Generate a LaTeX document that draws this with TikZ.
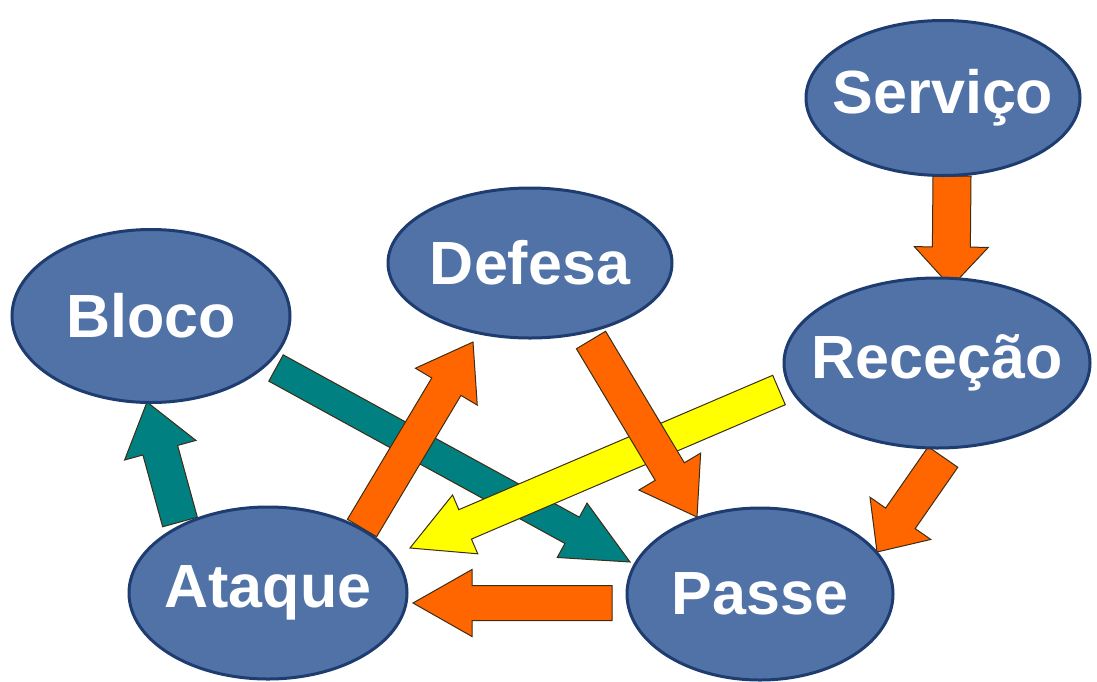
\documentclass[tikz,border=0pt]{standalone}
\usepackage{fontspec}
\setmainfont{Liberation Sans}
\usetikzlibrary{shapes.geometric,calc}
\definecolor{ellfill}{RGB}{80,114,166}
\definecolor{elldraw}{RGB}{30,60,112}
\definecolor{orangeA}{RGB}{255,102,0}
\definecolor{yellowA}{RGB}{255,255,0}
\definecolor{tealA}{RGB}{0,128,128}
\definecolor{arrline}{RGB}{60,45,20}
\tikzset{
  bubble/.style={ellipse, fill=ellfill, draw=elldraw, line width=3pt, inner sep=0pt},
  bubtext/.style={inner sep=0pt, text=white, font=\fontsize{61}{70}\selectfont\bfseries},
  barrowbase/.style={draw=arrline, line width=1pt, line join=miter},
  orangearrow/.style={barrowbase, fill=orangeA},
  yellowarrow/.style={barrowbase, fill=yellowA},
  tealarrow/.style={barrowbase, fill=tealA},
}
% #1 style, #2 tail, #3 tip, #4 shaft half width, #5 head half width, #6 head length
\newcommand\blockarr[6]{%
  \coordinate (hb) at ($(#3)!#6!(#2)$);
  \draw[#1] ($(#2)!#4!90:(#3)$) -- ($(hb)!#4!90:(#3)$) -- ($(hb)!#5!90:(#3)$) -- (#3)
    -- ($(hb)!#5!-90:(#3)$) -- ($(hb)!#4!-90:(#3)$) -- ($(#2)!#4!-90:(#3)$) -- cycle;}
\begin{document}
\begin{tikzpicture}[x=1pt,y=-1pt]
\useasboundingbox (0,0) rectangle (1097,681);
% arrow end points
\coordinate (t1) at (952,176);  \coordinate (h1) at (951,287);
\coordinate (t2) at (943,457);  \coordinate (h2) at (877,552);
\coordinate (t3) at (591,340);  \coordinate (h3) at (697,517);
\coordinate (t4) at (362,528);  \coordinate (h4) at (473,342);
\coordinate (t5) at (612,603);  \coordinate (h5) at (413,603);
\coordinate (t6) at (779,390);  \coordinate (h6) at (410,548);
\coordinate (t7) at (276,368);  \coordinate (h7) at (630,562);
\coordinate (t8) at (180,522);  \coordinate (h8) at (147,402);
% teal
\blockarr{tealarrow}{t7}{h7}{15pt}{31pt}{66pt}
\blockarr{tealarrow}{t8}{h8}{18pt}{37pt}{50pt}
% yellow
\blockarr{yellowarrow}{t6}{h6}{16pt}{32pt}{60pt}
% orange
\blockarr{orangearrow}{t1}{h1}{19pt}{37pt}{40pt}
\blockarr{orangearrow}{t2}{h2}{18pt}{37pt}{41pt}
\blockarr{orangearrow}{t3}{h3}{17pt}{36pt}{53pt}
\blockarr{orangearrow}{t4}{h4}{17pt}{36pt}{52pt}
\blockarr{orangearrow}{t5}{h5}{17.5pt}{33.5pt}{59pt}
% ellipses
\node[bubble, minimum width=274pt, minimum height=155pt] (serv) at (943,98) {};
\node[bubble, minimum width=284pt, minimum height=150pt] (def) at (530,263) {};
\node[bubble, minimum width=278pt, minimum height=173pt] (bloco) at (151,316) {};
\node[bubble, minimum width=306pt, minimum height=170pt] (rec) at (937,363) {};
\node[bubble, minimum width=266pt, minimum height=172pt] (passe) at (760,594) {};
\node[bubble, minimum width=278pt, minimum height=172pt] (ataque) at (268,593) {};
% texts
\node[bubtext] (servt) at (serv) {Serviço};
\node[bubtext] (deft) at (def) {Defesa};
\node[bubtext] (blocot) at (bloco) {Bloco};
\node[bubtext] (rect) at (rec) {Receção};
\node[bubtext] (passet) at (passe) {Passe};
\node[bubtext] (ataquet) at (ataque) {Ataque};
\end{tikzpicture}
\end{document}
